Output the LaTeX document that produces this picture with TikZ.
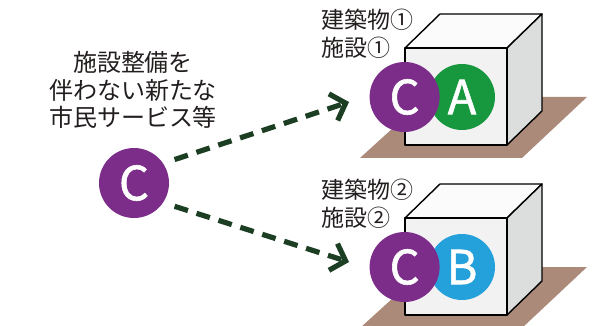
\documentclass[tikz,border=0pt]{standalone}
\usepackage{fontspec}
\setmainfont{Noto Sans CJK JP}
\newfontfamily\letterfont[FakeBold=1.2]{Noto Sans CJK JP}
\usetikzlibrary{arrows.meta,positioning}
\definecolor{svpurple}{RGB}{124,45,138}
\definecolor{svgreen}{RGB}{24,152,62}
\definecolor{svblue}{RGB}{36,160,218}
\definecolor{flowgreen}{RGB}{28,62,34}
\definecolor{groundbrown}{RGB}{172,138,122}
\definecolor{facefront}{RGB}{242,242,242}
\definecolor{faceside}{RGB}{220,221,221}
\definecolor{facetop}{RGB}{251,251,251}
\definecolor{inkgray}{RGB}{35,30,30}

\begin{document}
\begin{tikzpicture}[x=1pt,y=-1pt,every node/.style={align=center},
    svc/.style={circle,inner sep=0pt,minimum size=70pt,text=white,font=\letterfont\fontsize{47}{47}\selectfont},
    lab/.style={text=inkgray,font=\fontsize{23}{27.5}\selectfont},
    flow/.style={-{Straight Barb[length=13pt,width=28pt]},draw=flowgreen,line width=5.2pt,dash pattern=on 14pt off 9pt},
    cube/.style={draw=black,line width=1.4pt,line join=round}]
  \useasboundingbox (0,0) rectangle (595,326);
  \clip (0,0) rectangle (595,326);

  % ground plates and buildings
  \foreach \dy in {0,170} {
    \fill[groundbrown] (360,158+\dy) -- (427,97+\dy) -- (587,97+\dy) -- (522,158+\dy) -- cycle;
    \filldraw[cube,fill=facetop] (405,48+\dy) -- (440,14+\dy) -- (542,14+\dy) -- (507,48+\dy) -- cycle;
    \filldraw[cube,fill=faceside] (507,48+\dy) -- (542,14+\dy) -- (542,111+\dy) -- (507,145+\dy) -- cycle;
    \filldraw[cube,fill=facefront] (405,48+\dy) rectangle (507,145+\dy);
  }

  % left side
  \node[lab,font=\fontsize{24}{27.5}\selectfont] (what) at (133,90) {施設整備を\\伴わない新たな\\市民サービス等};
  \node[svc,fill=svpurple] (cL) at (134,183) {C};

  % building 1
  \node[lab,anchor=north west,align=left] (bld1) at (318,6) {建築物①\\施設①};
  \node[svc,fill=svgreen,minimum size=66pt] (cA) at (462,97) {A};
  \node[svc,fill=svpurple,left=-11pt of cA] (cA1) {C};

  % building 2
  \node[lab,anchor=north west,align=left] (bld2) at (318,176) {建築物②\\施設②};
  \node[svc,fill=svblue,minimum size=66pt] (cB) at (462,267) {B};
  \node[svc,fill=svpurple,left=-11pt of cB] (cB1) {C};

  % arrows
  \coordinate (tip1) at (349,102);
  \coordinate (tip2) at (349,262);
  \draw[flow,shorten <=12pt] (cL.34) -- (tip1);
  \draw[flow,shorten <=12pt] (cL.-34) -- (tip2);
\end{tikzpicture}
\end{document}
